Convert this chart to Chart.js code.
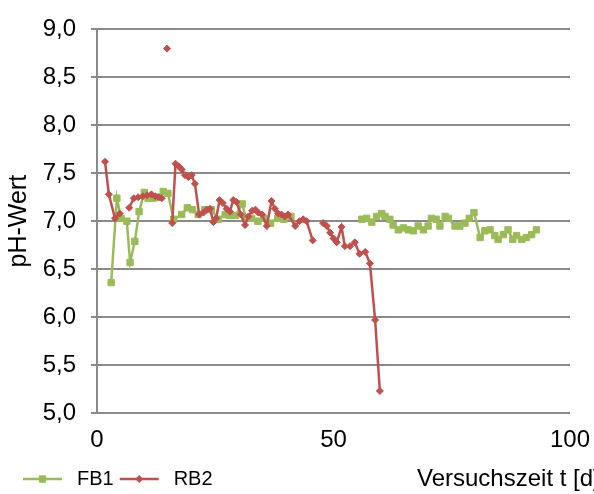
<!DOCTYPE html>
<html>
<head>
<meta charset="utf-8">
<script src="https://cdn.jsdelivr.net/npm/chart.js@4.4.1/dist/chart.umd.min.js"></script>
<style>
  html, body { margin: 0; padding: 0; background: #fff; overflow: hidden; }
  canvas { display: block; }
</style>
</head>
<body>
<canvas id="ph" width="594" height="494"></canvas>
<script>
// Versuchszeit [d] und pH-Werte
const fb1Tage = [3.0, 4.2, 5.1, 6.3, 7.0, 8.0, 8.9, 10.0, 10.8, 11.9, 13.0, 14.0, 15.0, 16.2, 17.9, 19.1, 20.2, 21.4, 22.8, 24.2, 25.6, 27.1,
  28.0, 29.3, 30.7, 31.5, 32.7, 34.0, 35.3, 36.7, 38.2, 39.5, 41.0, 48.0,
  56.0, 57.0, 58.1, 59.1, 60.2, 60.9, 61.9, 62.6, 63.7, 64.8, 65.8, 66.9, 67.9, 69.0, 70.0, 70.7, 71.7, 72.5, 73.6, 74.3,
  75.7, 76.7, 77.8, 78.7, 79.7, 81.0, 82.0, 83.1, 84.1, 84.8, 85.9, 86.9, 87.9, 88.7, 89.8, 90.8, 91.9, 92.9];
const fb1Ph = [6.36, 7.24, 7.03, 7.00, 6.57, 6.79, 7.10, 7.30, 7.24, 7.24, 7.25, 7.31, 7.29, 7.02, 7.07, 7.14, 7.12, 7.07, 7.12, 7.12, 7.02, 7.07,
  7.06, 7.06, 7.18, 7.03, 7.03, 7.00, 7.03, 6.98, 7.03, 7.02, 7.05, null,
  7.02, 7.03, 6.99, 7.05, 7.08, 7.05, 7.02, 6.96, 6.91, 6.93, 6.91, 6.90, 6.95, 6.91, 6.95, 7.03, 7.02, 6.95, 7.05, 7.03,
  6.95, 6.95, 6.98, 7.03, 7.09, 6.83, 6.90, 6.91, 6.85, 6.81, 6.86, 6.91, 6.81, 6.85, 6.81, 6.83, 6.86, 6.91];

const rb2Tage = [1.7, 2.5, 3.8, 4.8, 5.8, 6.8, 7.8, 8.7, 9.7, 10.6, 11.5, 12.3, 13.0, 13.7, 14.2, 14.8, 15.3,
  15.9, 16.6, 17.3, 17.9, 18.6, 19.3, 20.0, 20.7, 21.6, 22.5, 23.2, 23.9, 24.6, 25.2, 25.9, 26.6, 27.4, 28.1,
  28.8, 29.5, 30.4, 31.3, 32.0, 32.8, 33.5, 34.1, 34.9, 35.9, 36.9, 37.6, 38.3, 39.0, 39.7, 40.4, 41.9, 42.8,
  43.6, 44.3, 45.6, 46.5, 47.8, 48.6, 49.3, 50.0, 50.7, 51.7, 52.4, 53.5, 54.5, 55.5, 56.7, 57.7, 58.8, 59.8];
const rb2Ph = [7.62, 7.28, 7.03, 7.08, null, 7.14, 7.24, 7.25, 7.26, 7.27, 7.28, 7.26, 7.25, 7.24, null, 8.80, null,
  6.98, 7.60, 7.57, 7.54, 7.48, 7.46, 7.48, 7.39, 7.07, 7.09, 7.12, 7.13, 6.99, 7.03, 7.22, 7.19, 7.13, 7.10,
  7.22, 7.20, 7.07, 6.96, 7.05, 7.11, 7.12, 7.09, 7.07, 6.95, 7.21, 7.13, 7.08, 7.07, 7.05, 7.07, 6.95, 7.00,
  7.02, 7.00, 6.80, null, 6.98, 6.95, 6.88, 6.82, 6.78, 6.94, 6.74, 6.74, 6.78, 6.66, 6.68, 6.56, 5.97, 5.23];

const xTicks = [0, 50, 100];
const yTicks = [5.0, 5.5, 6.0, 6.5, 7.0, 7.5, 8.0, 8.5, 9.0];

const FONT = '"Liberation Sans", Arial, sans-serif';
const gridGrau = '#8a8a8a';

Chart.defaults.font.family = FONT;
Chart.defaults.font.size = 24;
Chart.defaults.color = '#000';

const punkte = (xs, ys) => xs.map((x, i) => ({ x: x, y: ys[i] }));

// Legende + Achsentitel unten in einer Zeile
const unten = {
  id: 'unten',
  afterDraw(chart) {
    const ctx = chart.ctx;
    const y = 479;
    let x = 23;
    ctx.save();
    ctx.textBaseline = 'middle';
    ctx.font = '20px ' + FONT;
    chart.data.datasets.forEach(ds => {
      ctx.strokeStyle = ds.borderColor;
      ctx.lineWidth = ds.borderWidth;
      ctx.beginPath();
      ctx.moveTo(x, y);
      ctx.lineTo(x + 39, y);
      ctx.stroke();
      ctx.fillStyle = ds.backgroundColor;
      ctx.lineWidth = 1;
      Chart.helpers.drawPoint(ctx, { pointStyle: ds.pointStyle, radius: ds.pointRadius, rotation: 0, borderWidth: 1 }, x + 19.5, y);
      ctx.fillStyle = '#000';
      ctx.fillText(ds.label, x + 54, y);
      x += 54 + ctx.measureText(ds.label).width + 6;
    });
    ctx.font = '24px ' + FONT;
    ctx.fillText('Versuchszeit t [d]', 417, y);
    ctx.restore();
  }
};

new Chart(document.getElementById('ph'), {
  type: 'line',
  data: {
    datasets: [{
      label: 'FB1',
      data: punkte(fb1Tage, fb1Ph),
      borderColor: '#9BBB59',
      backgroundColor: '#9BBB59',
      borderWidth: 2.5,
      pointStyle: 'rect',
      pointRadius: 4.5,
      pointBorderWidth: 1,
      tension: 0,
      order: 1
    }, {
      label: 'RB2',
      data: punkte(rb2Tage, rb2Ph),
      borderColor: '#C0504D',
      backgroundColor: '#C0504D',
      borderWidth: 2.5,
      pointStyle: 'rectRot',
      pointRadius: 3.5,
      pointBorderWidth: 1,
      tension: 0,
      order: 0
    }]
  },
  options: {
    responsive: false,
    animation: false,
    spanGaps: false,
    layout: { padding: { left: 0, top: 20, right: 24, bottom: 44 } },
    plugins: {
      legend: { display: false },
      tooltip: { enabled: false }
    },
    scales: {
      x: {
        type: 'linear',
        min: 0,
        max: 100,
        afterBuildTicks: s => { s.ticks = xTicks.map(v => ({ value: v })); },
        afterFit: s => { s.height = 37; },
        grid: { display: false, drawTicks: true, tickLength: 11 },
        border: { display: false },
        ticks: { padding: 2, maxRotation: 0 }
      },
      y: {
        min: 5,
        max: 9,
        afterBuildTicks: s => { s.ticks = yTicks.map(v => ({ value: v })); },
        afterFit: s => { s.width = 97; },
        grid: { color: gridGrau, lineWidth: 2, tickLength: 6 },
        border: { color: gridGrau, width: 2 },
        ticks: {
          padding: 15,
          callback: v => v.toFixed(1).replace('.', ',')
        },
        title: { display: true, text: 'pH-Wert', font: { size: 25 }, padding: { top: 4, bottom: 0 } }
      }
    }
  },
  plugins: [unten]
});
</script>
</body>
</html>
